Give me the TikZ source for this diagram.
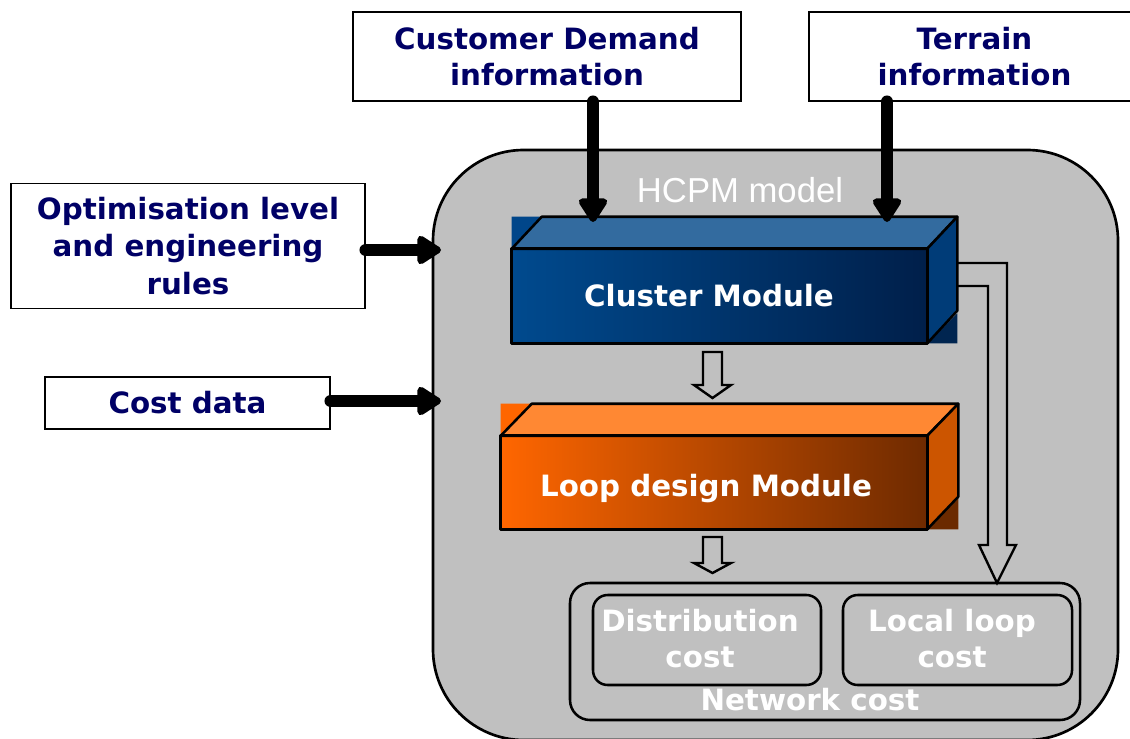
\documentclass[tikz,border=0pt]{standalone}
\usepackage{fontspec}
\setmainfont{DejaVu Sans}
\newfontfamily\hfont{Liberation Sans}
\usetikzlibrary{arrows.meta,calc}
\definecolor{navy}{HTML}{000066}
\definecolor{panel}{HTML}{C0C0C0}
\definecolor{cbL}{HTML}{004A8E}
\definecolor{cbR}{HTML}{001F4A}
\definecolor{cbTop}{HTML}{336B9F}
\definecolor{cbSide}{HTML}{003C78}
\definecolor{cbCorner}{HTML}{00468A}
\definecolor{cbCorner2}{HTML}{002550}
\definecolor{loL}{HTML}{FF6600}
\definecolor{loR}{HTML}{6E2A00}
\definecolor{loTop}{HTML}{FF8833}
\definecolor{loSide}{HTML}{CC5500}
\definecolor{loCorner2}{HTML}{6B2A00}
\tikzset{
  inbox/.style={draw=black, line width=1.2pt, fill=white, align=center,
    font=\bfseries\fontsize{22}{27.5}\selectfont, text=navy, inner sep=0pt},
  wlabel/.style={text=white, align=center, font=\bfseries\fontsize{22}{27}\selectfont, inner sep=0pt},
  bigarrow/.style={line width=9.5pt, line cap=round, line join=round,
    -{Triangle[length=20pt,width=24pt,round]}},
  hollow/.style={draw=black, line width=1.8pt, fill=panel, line join=miter},
  edge3d/.style={draw=black, line width=1.9pt, line join=round},
  costbox/.style={draw=black, line width=1.9pt, rounded corners=11pt, inner sep=0pt}
}
\begin{document}
\begin{tikzpicture}[x=0.75pt,y=-0.75pt]
\useasboundingbox (0,0) rectangle (1130,738);
\clip (0,0) rectangle (1130,738);

% main panel
\node[draw=black, line width=2pt, fill=panel, rounded corners=68pt,
      minimum width=513.75pt, minimum height=442.5pt, inner sep=0pt] (hcpm) at (775.5,445) {};
\node[text=white, font=\hfont\fontsize{26}{30}\selectfont, inner sep=0pt] (hcpmlbl) at (740,190) {HCPM model};

% input boxes
\node[inbox, minimum width=291pt, minimum height=66.75pt] (cust) at (547,56.5)
  {Customer Demand\\information};
\node[inbox, minimum width=248.25pt, minimum height=66.75pt] (terr) at (974.5,56.5)
  {Terrain\\information};
\node[inbox, minimum width=265.5pt, minimum height=93.75pt,
      font=\bfseries\fontsize{22}{28}\selectfont] (opt) at (188,246)
  {Optimisation level\\and engineering\\rules};
\node[inbox, minimum width=213.75pt, minimum height=39pt] (cost) at (187.5,403) {Cost data};

% cluster module (3D block)
\node[minimum width=311.25pt, minimum height=70.5pt, inner sep=0pt] (cluster) at (719.5,296) {};
\fill[cbCorner] (cluster.north west) -- ++(30,-32) -- ++(-30,0) -- cycle;
\fill[cbCorner2] (cluster.south east) -- ++(30,0) -- ++(0,-30) -- cycle;
\shade[left color=cbL, right color=cbR] (cluster.north west) rectangle (cluster.south east);
\draw[edge3d, fill=cbTop] (cluster.north west) -- ++(30,-32) -- ($(cluster.north east)+(30,-32)$) -- (cluster.north east) -- cycle;
\draw[edge3d, fill=cbSide] (cluster.north east) -- ++(30,-32) -- ++(0,94) -- (cluster.south east) -- cycle;
\draw[edge3d] (cluster.north west) rectangle (cluster.south east);
\node[wlabel] (clusterlbl) at (709,296) {Cluster Module};

% loop design module (3D block)
\node[minimum width=319.5pt, minimum height=69.75pt, inner sep=0pt] (loop) at (714,482.5) {};
\fill[loL] (loop.north west) -- ++(31,-32) -- ++(-31,0) -- cycle;
\fill[loCorner2] (loop.south east) -- ++(31,0) -- ++(0,-31) -- cycle;
\shade[left color=loL, right color=loR] (loop.north west) rectangle (loop.south east);
\draw[edge3d, fill=loTop] (loop.north west) -- ++(31,-32) -- ($(loop.north east)+(31,-32)$) -- (loop.north east) -- cycle;
\draw[edge3d, fill=loSide] (loop.north east) -- ++(31,-32) -- ++(0,93) -- (loop.south east) -- cycle;
\draw[edge3d] (loop.north west) rectangle (loop.south east);
\node[wlabel] (looplbl) at (706,489) {Loop design Module};

% network cost
\node[costbox, rounded corners=15pt, minimum width=382.5pt, minimum height=102.75pt] (net) at (825,651.5) {};
\node[costbox, minimum width=171pt, minimum height=67.5pt] (dist) at (707,640) {};
\node[costbox, minimum width=171.75pt, minimum height=67.5pt] (local) at (957.5,640) {};
\node[wlabel] (distlbl) at (700,639) {Distribution\\cost};
\node[wlabel] (locallbl) at (952,639) {Local loop\\cost};
\node[wlabel] (netlbl) at (810,700) {Network cost};

% thick input arrows
\coordinate (custEnd) at (593,222);
\coordinate (terrEnd) at (887,222);
\coordinate (optEnd) at (441,250);
\coordinate (costEnd) at (441,401);
\draw[bigarrow] (cust.south -| custEnd) -- (custEnd);
\draw[bigarrow] (terr.south -| terrEnd) -- (terrEnd);
\draw[bigarrow] (opt.east |- optEnd) -- (optEnd);
\draw[bigarrow] (cost.east |- costEnd) -- (costEnd);

% hollow block arrows
\draw[hollow] (703,352) -- (722,352) -- (722,385) -- (731,385) -- (712.5,398) -- (694,385) -- (703,385) -- cycle;
\draw[hollow] (703,537) -- (722,537) -- (722,563) -- (731,563) -- (712.5,573) -- (694,563) -- (703,563) -- cycle;

% elbow arrow from cluster to network cost
\draw[hollow, fill=none] (958,263) -- (1007,263) -- (1007,545) -- (1016,545) -- (997,583)
   -- (979,545) -- (988,545) -- (988,286) -- (958,286);
\end{tikzpicture}
\end{document}
